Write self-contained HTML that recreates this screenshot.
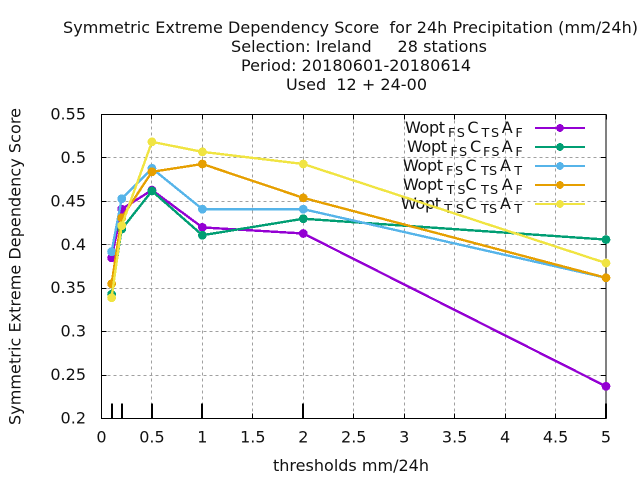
<!DOCTYPE html>
<html lang="en">
<head>
<meta charset="utf-8">
<title>Symmetric Extreme Dependency Score</title>
<style>
html,body{margin:0;padding:0;background:#fff;width:640px;height:480px;overflow:hidden}
svg{display:block}
text{font-family:"DejaVu Sans","Liberation Sans",sans-serif;font-size:16px;fill:#111;white-space:pre}
.sub{font-size:12.8px}
</style>
</head>
<body>
<svg id="chart" width="640" height="480" viewBox="0 0 640 480" xmlns="http://www.w3.org/2000/svg">
<rect x="0" y="0" width="640" height="480" fill="#fff"/>
<g>
<text x="63" y="33" textLength="575">Symmetric Extreme Dependency Score  for 24h Precipitation (mm/24h)</text>
<text x="231" y="52" textLength="256">Selection: Ireland     28 stations</text>
<text x="241" y="71" textLength="230">Period: 20180601-20180614</text>
<text x="286" y="90" textLength="141">Used  12 + 24-00</text>
</g>
<g id="grid"></g>
<g id="axes"></g>
<text transform="translate(20.5,266.5) rotate(-90)" text-anchor="middle" textLength="317">Symmetric Extreme Dependency Score</text>
<text x="351" y="471" text-anchor="middle" textLength="156">thresholds mm/24h</text>
<g>
<g><text x="405" y="133" textLength="40">Wopt</text><text class="sub" x="448" y="137">F</text><text class="sub" x="456.8" y="137">S</text><text x="467.4" y="133">C</text><text class="sub" x="481.5" y="137">T</text><text class="sub" x="491" y="137">S</text><text x="501.7" y="133">A</text><text class="sub" x="515.4" y="137">F</text></g>
<g><text x="407" y="152" textLength="40">Wopt</text><text class="sub" x="450.4" y="156">F</text><text class="sub" x="459" y="156">S</text><text x="470" y="152">C</text><text class="sub" x="483" y="156">F</text><text class="sub" x="491.4" y="156">S</text><text x="501.7" y="152">A</text><text class="sub" x="515.4" y="156">F</text></g>
<g><text x="403" y="171" textLength="40">Wopt</text><text class="sub" x="446" y="175">F</text><text class="sub" x="455" y="175">S</text><text x="465.4" y="171">C</text><text class="sub" x="481" y="175">T</text><text class="sub" x="489" y="175">S</text><text x="500" y="171">A</text><text class="sub" x="514.3" y="175">T</text></g>
<g><text x="403" y="190" textLength="40">Wopt</text><text class="sub" x="446.7" y="194">T</text><text class="sub" x="457.4" y="194">S</text><text x="465.4" y="190">C</text><text class="sub" x="481" y="194">T</text><text class="sub" x="490" y="194">S</text><text x="501.7" y="190">A</text><text class="sub" x="515.4" y="194">F</text></g>
<g><text x="401" y="209" textLength="40">Wopt</text><text class="sub" x="444.3" y="213">T</text><text class="sub" x="455.8" y="213">S</text><text x="465.4" y="209">C</text><text class="sub" x="481" y="213">T</text><text class="sub" x="489" y="213">S</text><text x="500" y="209">A</text><text class="sub" x="514.3" y="213">T</text></g>
</g>
<g id="marks"></g>
</svg>
<script>
const thresholds = [0.1, 0.2, 0.5, 1, 2, 5];
const xTickValues = [0, 0.5, 1, 1.5, 2, 2.5, 3, 3.5, 4, 4.5, 5];
const yTickValues = [0.2, 0.25, 0.3, 0.35, 0.4, 0.45, 0.5, 0.55];
const xTickLabels = ['0', '0.5', '1', '1.5', '2', '2.5', '3', '3.5', '4', '4.5', '5'];
const yTickLabels = ['0.2', '0.25', '0.3', '0.35', '0.4', '0.45', '0.5', '0.55'];
const seriesFsTsF = [0.385, 0.441, 0.463, 0.42, 0.413, 0.237];
const seriesFsFsF = [0.343, 0.418, 0.462, 0.411, 0.43, 0.406];
const seriesFsTsT = [0.392, 0.453, 0.488, 0.441, 0.441, 0.362];
const seriesTsTsF = [0.355, 0.431, 0.484, 0.493, 0.454, 0.362];
const seriesTsTsT = [0.339, 0.422, 0.5185, 0.507, 0.493, 0.379];

const SVGNS = 'http://www.w3.org/2000/svg';
const plotLeft = 101.5, plotRight = 606, plotTop = 114.5, plotBottom = 418.5;
const xMin = 0, xMax = 5, yMin = 0.2, yMax = 0.55;
function xScale(v) { return plotLeft + (v - xMin) / (xMax - xMin) * (plotRight - plotLeft); }
function yScale(v) { return plotBottom - (v - yMin) / (yMax - yMin) * (plotBottom - plotTop); }
function make(tag, attrs, parent) {
  const el = document.createElementNS(SVGNS, tag);
  for (const k in attrs) el.setAttribute(k, attrs[k]);
  parent.appendChild(el);
  return el;
}
const grid = document.getElementById('grid');
const axes = document.getElementById('axes');
const marks = document.getElementById('marks');

xTickValues.forEach(function (v, i) {
  const x = Math.floor(xScale(v)) + 0.5;
  if (i > 0 && i < xTickValues.length - 1) {
    const g = make('line', {x1: x, x2: x, y1: plotTop, y2: plotBottom, stroke: '#a0a0a0', 'stroke-width': 1, 'stroke-dasharray': '3 3', 'shape-rendering': 'crispEdges'}, grid);
    
    
  }
  const t1 = make('line', {x1: x, x2: x, y1: plotBottom, y2: plotBottom - 5, stroke: '#000', 'stroke-width': 1, 'shape-rendering': 'crispEdges'}, axes);
  
  
  const t2 = make('line', {x1: x, x2: x, y1: plotTop, y2: plotTop + 5, stroke: '#000', 'stroke-width': 1, 'shape-rendering': 'crispEdges'}, axes);
  
  
  const lab = make('text', {x: xScale(v), y: 442.5, 'text-anchor': 'middle'}, axes);
  
  
  lab.textContent = xTickLabels[i];
});
yTickValues.forEach(function (v, i) {
  const y = Math.round(yScale(v) - 0.5) + 0.5;
  if (i > 0 && i < yTickValues.length - 1) {
    const g = make('line', {x1: plotLeft, x2: plotRight, y1: y, y2: y, stroke: '#a0a0a0', 'stroke-width': 1, 'stroke-dasharray': '3 3', 'shape-rendering': 'crispEdges'}, grid);
    
    
  }
  const t1 = make('line', {x1: plotLeft, x2: plotLeft + 5, y1: y, y2: y, stroke: '#000', 'stroke-width': 1, 'shape-rendering': 'crispEdges'}, axes);
  
  
  const t2 = make('line', {x1: plotRight, x2: plotRight - 5, y1: y, y2: y, stroke: '#000', 'stroke-width': 1, 'shape-rendering': 'crispEdges'}, axes);
  
  
  const lab = make('text', {x: 86, y: yScale(v) + 5, 'text-anchor': 'end'}, axes);
  
  
  lab.textContent = yTickLabels[i];
});
const frame = make('rect', {x: plotLeft, y: plotTop, width: plotRight - plotLeft, height: plotBottom - plotTop, fill: 'none', stroke: '#000', 'stroke-width': 1, 'shape-rendering': 'crispEdges'}, axes);


thresholds.forEach(function (v) {
  const x = Math.round(xScale(v));
  const m = make('line', {x1: x, x2: x, y1: plotBottom - 15, y2: plotBottom, stroke: '#000', 'stroke-width': 2, 'shape-rendering': 'crispEdges'}, axes);
  
  
});

function drawSeries(values, color, name, legendY) {
  const g = make('g', {}, marks);
  
  
  const pts = values.map(function (v, i) { return xScale(thresholds[i]) + ',' + yScale(v); }).join(' ');
  const line = make('polyline', {points: pts, fill: 'none', stroke: color, 'stroke-width': 2.4, 'stroke-linejoin': 'round', 'shape-rendering': 'crispEdges'}, g);
  
  
  values.forEach(function (v, i) {
    const c = make('circle', {cx: xScale(thresholds[i]), cy: yScale(v), r: 4, fill: color, stroke: color, 'stroke-width': 0.8, 'shape-rendering': 'crispEdges'}, g);
    
    
  });
  const ls = make('line', {x1: 535, x2: 585, y1: legendY, y2: legendY, stroke: color, 'stroke-width': 2, 'shape-rendering': 'crispEdges'}, g);
  
  
  const lp = make('circle', {cx: 560, cy: legendY, r: 3.5, fill: color, stroke: color, 'stroke-width': 0.8, 'shape-rendering': 'crispEdges'}, g);
  
  
}
drawSeries(seriesFsTsF, '#9400d3', 'series-fs-ts-f', 128);
drawSeries(seriesFsFsF, '#009e73', 'series-fs-fs-f', 147);
drawSeries(seriesFsTsT, '#56b4e9', 'series-fs-ts-t', 166);
drawSeries(seriesTsTsF, '#e69f00', 'series-ts-ts-f', 185);
drawSeries(seriesTsTsT, '#f0e442', 'series-ts-ts-t', 204);
</script>
</body>
</html>
